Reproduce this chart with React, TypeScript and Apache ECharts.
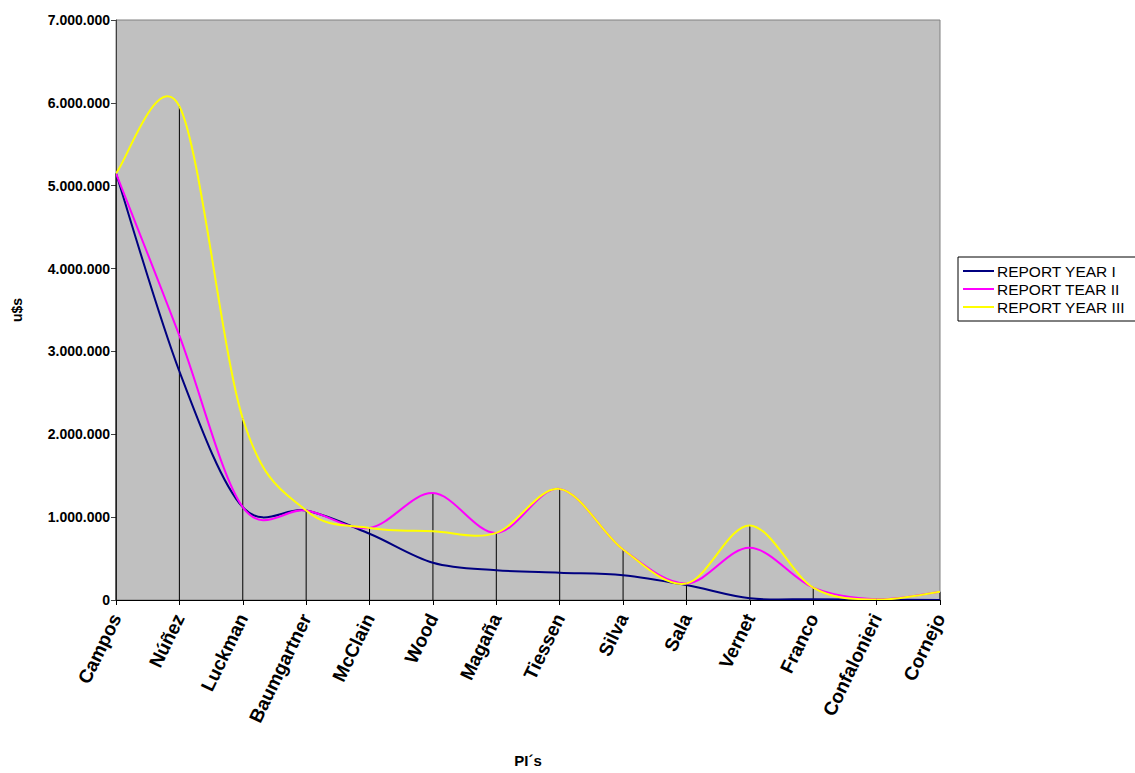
import React, { useEffect, useRef } from "react";
import * as echarts from "echarts";

const categories = [
  "Campos", "Núñez", "Luckman", "Baumgartner", "McClain", "Wood", "Magaña",
  "Tiessen", "Silva", "Sala", "Vernet", "Franco", "Confalonieri", "Cornejo",
];
const seriesNames = ["REPORT YEAR I", "REPORT TEAR II", "REPORT YEAR III"];
const year1 = [5150000, 2760000, 1120000, 1080000, 800000, 450000, 360000, 330000, 300000, 180000, 20000, 10000, 5000, 0];
const year2 = [5150000, 3190000, 1120000, 1080000, 870000, 1290000, 810000, 1340000, 610000, 200000, 630000, 150000, 10000, 100000];
const year3 = [5150000, 5960000, 2190000, 1080000, 870000, 830000, 810000, 1340000, 610000, 200000, 900000, 150000, 5000, 100000];
const colors = ["#000080", "#FF00FF", "#FFFF00"];
const yTicks = { min: 0, max: 7000000, interval: 1000000 };

const fmt = (v: number) => {
  const s = Math.round(v).toString();
  return s.replace(/\B(?=(\d{3})+(?!\d))/g, ".");
};

const FONT = "'Liberation Sans', Arial, sans-serif";

function smoothSeries(name: string, arr: number[], color: string, z: number) {
  const n = arr.length;
  return {
    name,
    type: "custom",
    data: arr.map((v, i) => [i, v]),
    encode: { x: 0, y: 1 },
    itemStyle: { color },
    z,
    clip: true,
    silent: true,
    renderItem: (params: any, api: any) => {
      const i = api.value(0) as number;
      if (i >= n - 1) return null;
      const P = (k: number) => {
        const kk = Math.max(0, Math.min(n - 1, k));
        return api.coord([kk, arr[kk]]);
      };
      const p0 = P(i - 1);
      const p1 = P(i);
      const p2 = P(i + 1);
      const p3 = P(i + 2);
      const t = 1 / 6;
      const c1 = [p1[0] + (p2[0] - p0[0]) * t, p1[1] + (p2[1] - p0[1]) * t];
      const c2 = [p2[0] - (p3[0] - p1[0]) * t, p2[1] - (p3[1] - p1[1]) * t];
      return {
        type: "bezierCurve",
        shape: {
          x1: p1[0], y1: p1[1],
          cpx1: c1[0], cpy1: c1[1],
          cpx2: c2[0], cpy2: c2[1],
          x2: p2[0], y2: p2[1],
        },
        style: { stroke: color, lineWidth: 2, fill: "none" },
      };
    },
  };
}

export default function App() {
  const ref = useRef<HTMLDivElement>(null);
  useEffect(() => {
    if (!ref.current) return;
    const chart = echarts.init(ref.current, undefined, { renderer: "svg" });
    const all = [year1, year2, year3];
    const drop = categories.map((_, i) => Math.max(year1[i], year2[i], year3[i]));
    chart.setOption({
      animation: false,
      backgroundColor: "#ffffff",
      textStyle: { fontFamily: FONT },
      grid: {
        left: 116,
        top: 20,
        right: 195,
        bottom: 170,
        show: true,
        backgroundColor: "#C0C0C0",
        borderColor: "#808080",
        borderWidth: 1,
      },
      legend: {
        data: seriesNames.map((nm) => ({ name: nm, icon: "rect" })),
        orient: "vertical",
        left: 958,
        top: 257,
        itemWidth: 31,
        itemHeight: 2,
        itemGap: 2,
        padding: [6, 40, 6, 5],
        borderColor: "#000",
        borderWidth: 1,
        backgroundColor: "#fff",
        textStyle: { fontFamily: FONT, fontSize: 15.5, color: "#000", padding: [0, 0, 0, -2] },
        selectedMode: false,
      },
      xAxis: {
        type: "category",
        data: categories,
        boundaryGap: false,
        name: "PI´s",
        nameLocation: "middle",
        nameGap: 153,
        nameTextStyle: { fontFamily: FONT, fontSize: 15, fontWeight: "bold", color: "#000" },
        axisLine: { lineStyle: { color: "#000", width: 1 } },
        axisTick: { show: true, length: 5, alignWithLabel: true, lineStyle: { color: "#000" } },
        axisLabel: {
          rotate: 64,
          interval: 0,
          margin: 15,
          fontFamily: FONT,
          fontSize: 19,
          fontWeight: "bold",
          color: "#000",
        },
        splitLine: { show: false },
      },
      yAxis: {
        type: "value",
        min: yTicks.min,
        max: yTicks.max,
        interval: yTicks.interval,
        name: "u$s",
        nameLocation: "middle",
        nameGap: 92,
        nameRotate: 90,
        nameTextStyle: { fontFamily: FONT, fontSize: 14, fontWeight: "bold", color: "#000" },
        axisLine: { show: true, lineStyle: { color: "#404040", width: 1 } },
        axisTick: { show: true, length: 5, lineStyle: { color: "#404040" } },
        axisLabel: {
          margin: 6,
          fontFamily: FONT,
          fontSize: 14,
          fontWeight: "bold",
          color: "#000",
          formatter: (v: number) => fmt(v),
        },
        splitLine: { show: false },
      },
      series: [
        {
          name: "drop",
          type: "bar",
          data: drop,
          barWidth: 1,
          itemStyle: { color: "#000" },
          silent: true,
          z: 1,
        },
        ...all.map((d, i) => smoothSeries(seriesNames[i], d, colors[i], 3 + i)),
      ],
    });
    return () => chart.dispose();
  }, []);
  return (
    <div
      ref={ref}
      style={{ position: "fixed", left: 0, top: 0, width: 1135, height: 773 }}
    />
  );
}
